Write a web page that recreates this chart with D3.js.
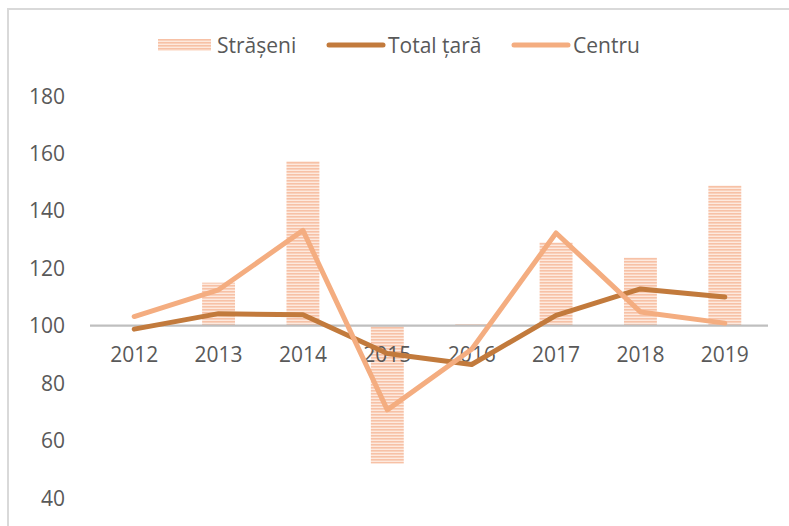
<!DOCTYPE html>
<html>
<head>
<meta charset="utf-8">
<script src="https://cdn.jsdelivr.net/npm/d3@7"></script>
<style>
  html, body { margin: 0; padding: 0; background: #ffffff; }
  svg { display: block; }
  text { font-family: "Open Sans", "Liberation Sans", sans-serif; fill: #595959; }
</style>
</head>
<body>
<svg id="chart" width="789" height="526"></svg>
<script>
// Indices (previous year = 100)
const years = ["2012", "2013", "2014", "2015", "2016", "2017", "2018", "2019"];
const straseni = [100, 115, 157.3, 52, 100.5, 129, 123.7, 148.8];
const totalTara = [98.8, 104.2, 103.8, 90.3, 86.5, 103.6, 112.8, 110];
const centru = [103.2, 112.5, 133.2, 70.7, 91.8, 132.3, 104.8, 100.9];
const yTicks = [40, 60, 80, 100, 120, 140, 160, 180];
const seriesNames = ["Strășeni", "Total țară", "Centru"];

const colors = {
  barLine: "#f7c1a6",
  barBg: "#fde9de",
  total: "#c27a3c",
  centru: "#f4ad80",
  axis: "#bfbfbf",
  frame: "#d9d9d9"
};
const fontSize = "21px";

const svg = d3.select("#chart");

// Stripe pattern for the Strășeni bars
const defs = svg.append("defs");
const pat = defs.append("pattern")
  .attr("id", "stripes")
  .attr("patternUnits", "userSpaceOnUse")
  .attr("width", 6).attr("height", 3);
pat.append("rect").attr("width", 6).attr("height", 3).attr("fill", colors.barBg);
pat.append("rect").attr("width", 6).attr("height", 1.6).attr("fill", colors.barLine);

// Outer frame (top and left edges visible)
svg.append("line").attr("x1", 7).attr("x2", 789).attr("y1", 9).attr("y2", 9)
  .attr("stroke", colors.frame).attr("stroke-width", 2);
svg.append("line").attr("x1", 8).attr("x2", 8).attr("y1", 8).attr("y2", 526)
  .attr("stroke", colors.frame).attr("stroke-width", 2);

const x = d3.scaleBand().domain(years).range([92, 767]).paddingInner(0.61).paddingOuter(0.305);
const y = d3.scaleLinear().domain([40, 180]).range([498, 96]);

// Y tick labels (no gridlines)
const yAxis = d3.axisLeft(y).tickValues(yTicks).tickSize(0).tickPadding(0);
const yg = svg.append("g").attr("transform", "translate(65,0)").call(yAxis);
yg.select(".domain").remove();
yg.selectAll("text")
  .style("font-size", fontSize)
  .attr("fill", "#595959")
  .attr("dy", "0.34em");

// Bars hanging from the 100 baseline
svg.append("g").selectAll("rect")
  .data(years.map((yr, i) => ({ yr, v: straseni[i] })))
  .join("rect")
  .attr("x", d => x(d.yr))
  .attr("width", x.bandwidth())
  .attr("y", d => Math.min(y(d.v), y(100)))
  .attr("height", d => Math.abs(y(d.v) - y(100)))
  .attr("fill", "url(#stripes)");

// Category axis at 100
const xAxis = d3.axisBottom(x).tickSize(0).tickPadding(21);
const xg = svg.append("g").attr("transform", `translate(0,${y(100)})`).call(xAxis);
xg.select(".domain").attr("stroke", colors.axis).attr("stroke-width", 2.2)
  .attr("d", "M90,0H768");
xg.selectAll("text").style("font-size", fontSize).attr("fill", "#595959");

// Lines
const line = d3.line()
  .x((d, i) => x(years[i]) + x.bandwidth() / 2)
  .y(d => y(d));

svg.append("path").datum(totalTara)
  .attr("d", line).attr("fill", "none")
  .attr("stroke", colors.total).attr("stroke-width", 5)
  .attr("stroke-linejoin", "round").attr("stroke-linecap", "round");

svg.append("path").datum(centru)
  .attr("d", line).attr("fill", "none")
  .attr("stroke", colors.centru).attr("stroke-width", 5)
  .attr("stroke-linejoin", "round").attr("stroke-linecap", "round");

// Legend
const legend = svg.append("g");
const ly = 45;
const items = [
  { name: seriesNames[0], x0: 158, w: 53, tx: 217, type: "bar" },
  { name: seriesNames[1], x0: 327, w: 58, tx: 388, type: "line", color: colors.total },
  { name: seriesNames[2], x0: 512, w: 58, tx: 573, type: "line", color: colors.centru }
];
items.forEach(it => {
  if (it.type === "bar") {
    legend.append("rect").attr("x", it.x0).attr("y", ly - 6)
      .attr("width", it.w).attr("height", 12).attr("fill", "url(#stripes)");
  } else {
    legend.append("line").attr("x1", it.x0 + 2).attr("x2", it.x0 + it.w - 2)
      .attr("y1", ly).attr("y2", ly)
      .attr("stroke", it.color).attr("stroke-width", 5).attr("stroke-linecap", "round");
  }
  legend.append("text").attr("x", it.tx).attr("y", ly)
    .attr("dy", "0.36em").style("font-size", fontSize).text(it.name);
});
</script>
</body>
</html>
